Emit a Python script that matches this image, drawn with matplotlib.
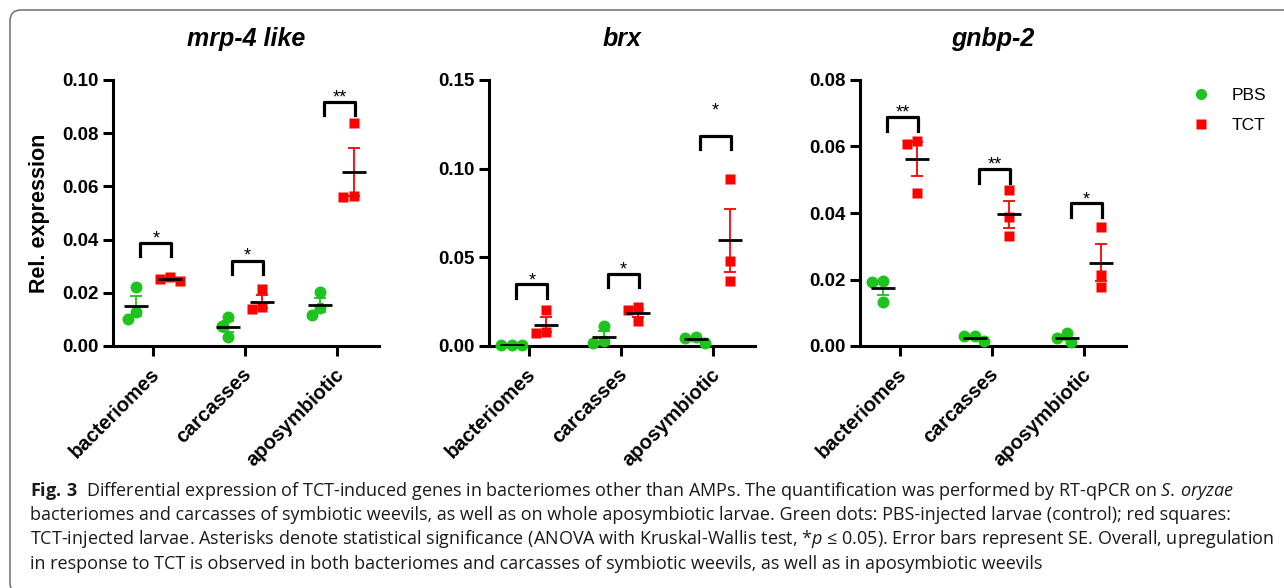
import numpy as np
import matplotlib
matplotlib.use('Agg')
import matplotlib.pyplot as plt
from matplotlib.lines import Line2D
from matplotlib.patches import FancyBboxPatch
from matplotlib.transforms import IdentityTransform, ScaledTranslation
from matplotlib.ticker import FormatStrFormatter, MultipleLocator

plt.rcParams['font.family'] = ['Liberation Sans', 'DejaVu Sans']
plt.rcParams['mathtext.fontset'] = 'custom'
plt.rcParams['mathtext.rm'] = 'Open Sans'
plt.rcParams['mathtext.it'] = 'Open Sans:italic'
plt.rcParams['mathtext.bf'] = 'Open Sans:bold'

# data (3 larvae per group)
tissues = ['bacteriomes', 'carcasses', 'aposymbiotic']
genes = ['mrp-4 like', 'brx', 'gnbp-2']

mrp4_pbs = [[0.0222, 0.0100, 0.0129], [0.0109, 0.0075, 0.0034], [0.0203, 0.0117, 0.0143]]
mrp4_tct = [[0.0245, 0.0258, 0.0252], [0.0214, 0.0139, 0.0146], [0.0838, 0.0564, 0.0561]]
brx_pbs = [[0.0003, 0.0008, 0.0006], [0.0015, 0.0113, 0.0030], [0.0019, 0.0053, 0.0045]]
brx_tct = [[0.0075, 0.0203, 0.0078], [0.0218, 0.0143, 0.0203], [0.0942, 0.0479, 0.0367]]
gnbp_pbs = [[0.0193, 0.0133, 0.0195], [0.0016, 0.0030, 0.0029], [0.0011, 0.0040, 0.0025]]
gnbp_tct = [[0.0617, 0.0461, 0.0607], [0.0469, 0.0389, 0.0331], [0.0359, 0.0213, 0.0177]]

y_max = [0.10, 0.15, 0.08]
y_step = [0.02, 0.05, 0.02]

# significance brackets: bracket height, star height, label
sig_top = [[0.0387, 0.0321, 0.0918], [0.0348, 0.0406, 0.1186], [0.0688, 0.0531, 0.0429]]
sig_star = [[0.0424, 0.0361, 0.0955], [0.0400, 0.0461, 0.1360], [0.0718, 0.0561, 0.0456]]
sig_label = [['*', '*', '**'], ['*', '*', '*'], ['**', '**', '*']]

caption = [
    r'$\mathbf{Fig.\,3}$  Differential expression of TCT-induced genes in bacteriomes other than AMPs. '
    r'The quantification was performed by RT-qPCR on $\mathit{S.\,oryzae}$',
    'bacteriomes and carcasses of symbiotic weevils, as well as on whole aposymbiotic larvae. '
    'Green dots: PBS-injected larvae (control); red squares:',
    r'TCT-injected larvae. Asterisks denote statistical significance (ANOVA with Kruskal-Wallis test, '
    r'*$\mathit{p}$ ≤ 0.05). Error bars represent SE. Overall, upregulation',
    'in response to TCT is observed in both bacteriomes and carcasses of symbiotic weevils, '
    'as well as in aposymbiotic weevils',
]

green = '#1ec31e'
red = '#ff0000'

pbs_all = [mrp4_pbs, brx_pbs, gnbp_pbs]
tct_all = [mrp4_tct, brx_tct, gnbp_tct]

W, H = 1284, 588
fig = plt.figure(figsize=(W / 100, H / 100), dpi=100)

# rounded frame around the whole figure
frame = FancyBboxPatch((10, -6), 1310, 584, boxstyle='round,pad=0,rounding_size=11',
                       transform=IdentityTransform(), fill=False, ec='#7a7a7a', lw=1.2)
fig.patches.append(frame)


def swarm(ax, values, center, d_px=10.5):
    # push overlapping points sideways like a prism scatter plot
    tr = ax.transData
    px_per_x = tr.transform((1, 0))[0] - tr.transform((0, 0))[0]
    ys = [tr.transform((0, v))[1] for v in values]
    placed = []
    xs = [center] * len(values)
    steps = sorted(np.arange(-30, 30.5, 0.5), key=abs)
    for i in np.argsort(ys)[::-1]:
        for off in steps:
            if all(np.hypot(off - px, ys[i] - py) >= d_px for px, py in placed):
                break
        placed.append((off, ys[i]))
        xs[i] = center + off / px_per_x
    return xs


lefts = [113, 489, 860]
for g in range(3):
    ax = fig.add_axes([lefts[g] / W, (H - 346) / H, 266 / W, 266 / H])
    ax.set_xlim(-0.435, 2.457)
    ax.set_ylim(0, y_max[g])
    for s in ['top', 'right']:
        ax.spines[s].set_visible(False)
    for s in ['left', 'bottom']:
        ax.spines[s].set_linewidth(2.2)
    ax.yaxis.set_major_locator(MultipleLocator(y_step[g]))
    ax.yaxis.set_major_formatter(FormatStrFormatter('%.2f'))
    ax.tick_params(width=2.2, length=7.5, labelsize=13.5)
    ax.tick_params(axis='y', pad=3)
    ax.tick_params(axis='x', pad=6, labelsize=14.5)
    ax.set_xticks(range(3))
    ax.set_xticklabels(tissues, rotation=45, ha='right', va='top', rotation_mode='anchor',
                       fontweight='bold')
    for lab in ax.get_xticklabels():
        lab.set_transform(lab.get_transform() + ScaledTranslation(-0.03, 0, fig.dpi_scale_trans))
    for lab in ax.get_yticklabels():
        lab.set_fontweight('bold')
    ax.set_title(genes[g], fontsize=18, fontweight='bold', fontstyle='italic', pad=24.8)
    if g == 0:
        ax.set_ylabel('Rel. expression', fontsize=15.5, fontweight='bold')
        ax.yaxis.set_label_coords(-0.235, 0.5)

    for k in range(3):
        groups = [(pbs_all[g][k], -0.185, green, 'o', 8.6),
                  (tct_all[g][k], 0.185, red, 's', 7.9)]
        for vals, shift, color, marker, ms in groups:
            c = k + shift
            xs = swarm(ax, vals, c)
            ax.plot(xs, vals, ls='none', marker=marker, ms=ms, color=color, mec='none',
                    zorder=3, clip_on=False)
            m = np.mean(vals)
            se = np.std(vals, ddof=1) / np.sqrt(len(vals))
            ax.errorbar(c, m, yerr=se, fmt='none', ecolor=color, elinewidth=1.3,
                        capsize=4.5, capthick=1.3, zorder=4)
            ax.hlines(m, c - 0.13, c + 0.13, color='black', lw=2, zorder=5)

        top = sig_top[g][k]
        leg = 0.05 * y_max[g]
        x0, x1 = k - 0.14, k + 0.2
        ax.plot([x0, x0, x1, x1], [top - leg, top, top, top - leg], color='black', lw=2.3,
                solid_joinstyle='round', clip_on=False, zorder=4)
        ax.annotate(sig_label[g][k], (k + 0.03, sig_star[g][k]), xytext=(0, -7.5),
                    textcoords='offset points', ha='center', va='baseline', fontsize=13)

handles = [Line2D([], [], ls='none', marker='o', ms=8, color=green, mec='none'),
           Line2D([], [], ls='none', marker='s', ms=7.2, color=red, mec='none')]
fig.legend(handles, ['PBS', 'TCT'], loc='upper left', bbox_to_anchor=(1192 / W, 1 - 88 / H),
           frameon=False, fontsize=12.5, handlelength=1.0, handletextpad=1.3,
           labelspacing=0.86, borderpad=0, borderaxespad=0)

baselines = [495.5, 520, 544.5, 569]
for line, yb in zip(caption, baselines):
    fig.text(30 / W, 1 - yb / H, line, family='Open Sans', fontsize=13, color='#1a1a1a',
             va='baseline', ha='left')

fig.savefig('out.png', dpi=100)
